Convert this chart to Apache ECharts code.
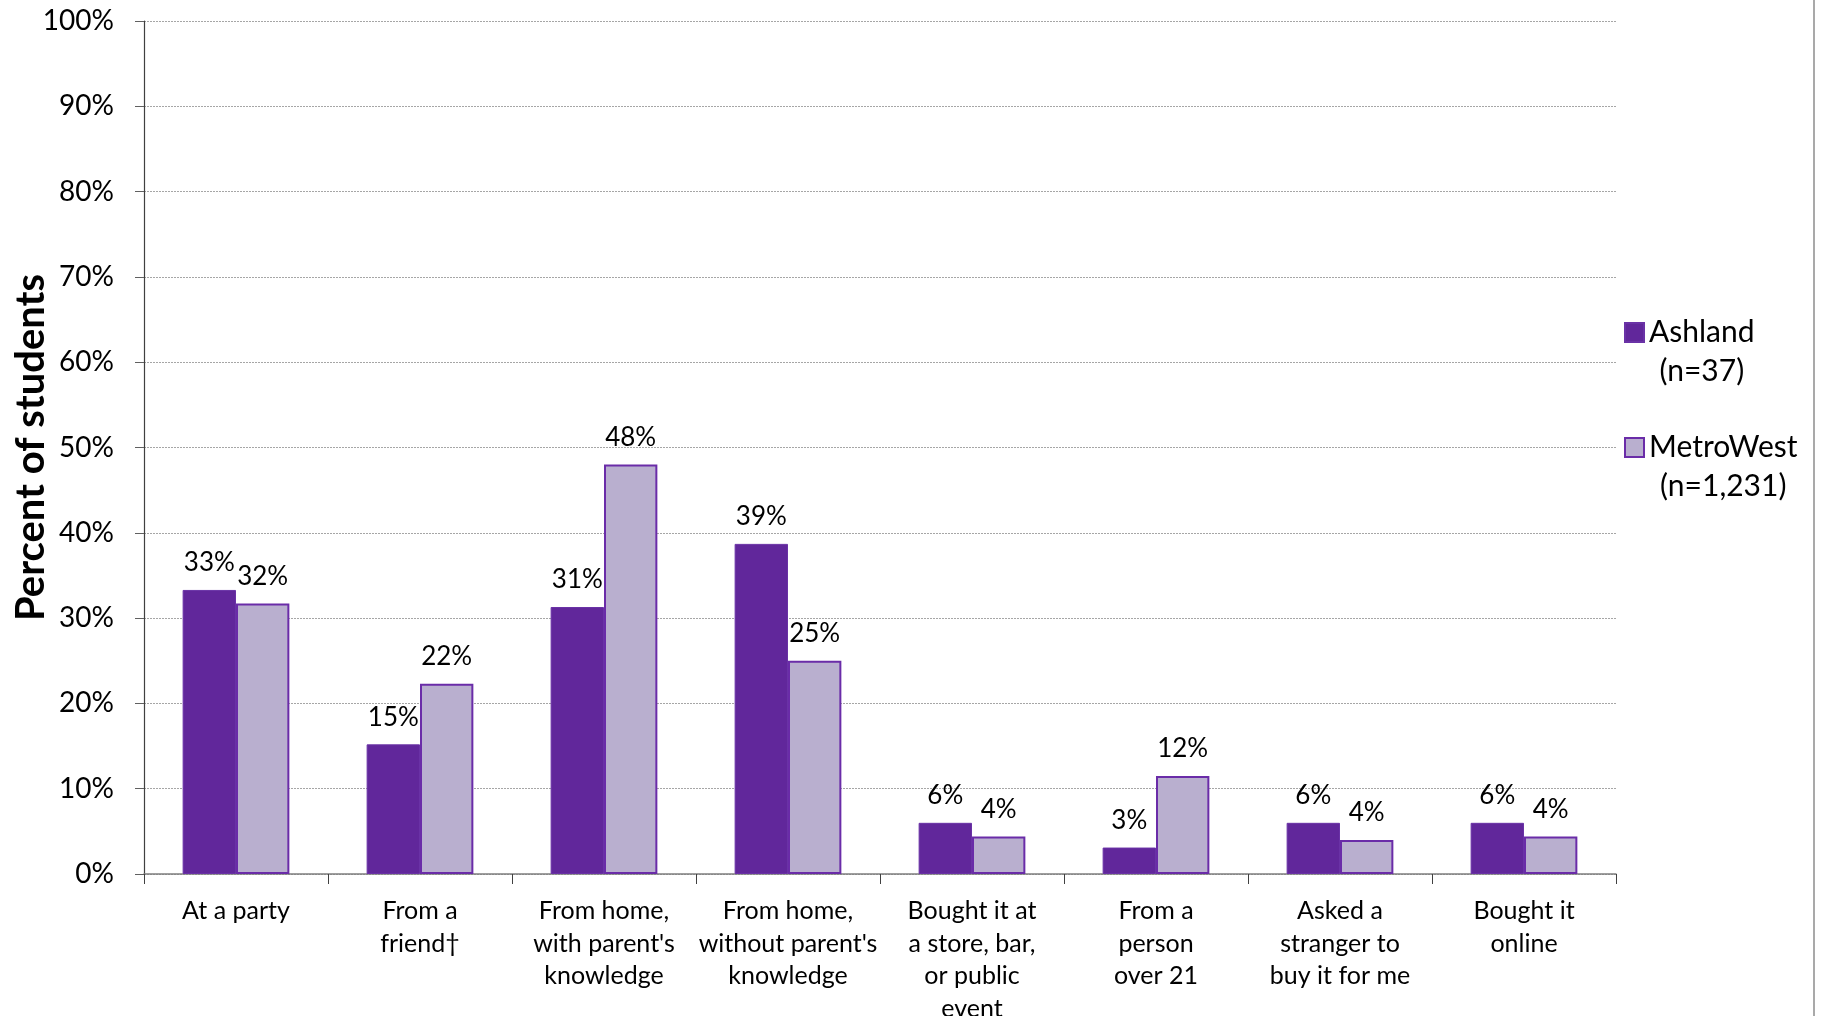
<!DOCTYPE html>
<html>
<head>
<meta charset="utf-8">
<script src="https://cdn.jsdelivr.net/npm/echarts@6/dist/echarts.min.js"></script>
<style>
html,body{margin:0;padding:0;background:#fff;}
#chart{width:1821px;height:1016px;}
</style>
</head>
<body>
<div id="chart"></div>
<script>
const categories = [
  "At a party",
  "From a\nfriend\u2020",
  "From home,\nwith parent's\nknowledge",
  "From home,\nwithout parent's\nknowledge",
  "Bought it at\na store, bar,\nor public\nevent",
  "From a\nperson\nover 21",
  "Asked a\nstranger to\nbuy it for me",
  "Bought it\nonline"
];
const ashland = [33.3, 15.2, 31.3, 38.7, 6.0, 3.1, 6.0, 6.0];
const metroWest = [31.7, 22.3, 48.0, 25.0, 4.4, 11.5, 4.0, 4.4];
const seriesNames = ["Ashland", "MetroWest"];
const seriesN = ["(n=37)", "(n=1,231)"];
const yTicks = [0, 10, 20, 30, 40, 50, 60, 70, 80, 90, 100];

const FONT = "Lato, 'Noto Sans', sans-serif";
const chart = echarts.init(document.getElementById('chart'), null, {renderer: 'canvas'});

const labelCfg = {
  show: true,
  position: 'top',
  distance: 14,
  formatter: p => Math.round(p.value) + '%',
  color: '#000',
  fontSize: 26,
  fontFamily: FONT
};

const legendTok = {fontSize: 30, fontFamily: FONT, color: '#000', lineHeight: 39, align: 'center'};

chart.setOption({
  animation: false,
  backgroundColor: '#fff',
  grid: {left: 144, right: 205, top: 21, bottom: 142, containLabel: false, outerBoundsMode: 'none'},
  legend: {
    orient: 'vertical',
    left: 1619,
    top: 269,
    itemWidth: 19,
    itemHeight: 19,
    itemGap: -2,
    icon: 'rect',
    formatter: name => '{c| }\n{c|' + name + '}\n{c|' + seriesN[seriesNames.indexOf(name)] + '}',
    textStyle: {
      fontSize: 30,
      fontFamily: FONT,
      color: '#000',
      lineHeight: 39,
      rich: {c: legendTok}
    },
    data: seriesNames
  },
  xAxis: {
    type: 'category',
    data: categories,
    axisLine: {lineStyle: {color: '#7f7f7f', width: 1.5}},
    axisTick: {show: true, length: 10, alignWithLabel: false, lineStyle: {color: '#404040'}},
    axisLabel: {
      interval: 0,
      margin: 21,
      fontSize: 25,
      lineHeight: 32.5,
      color: '#000',
      fontFamily: FONT
    }
  },
  yAxis: {
    type: 'value',
    min: 0,
    max: 100,
    interval: 10,
    name: 'Percent of students',
    nameLocation: 'middle',
    nameGap: 93,
    nameMoveOverlap: false,
    nameTextStyle: {fontSize: 40, fontWeight: 'bold', color: '#000', fontFamily: FONT},
    axisLine: {show: true, lineStyle: {color: '#404040', width: 1.2}},
    axisTick: {show: true, length: 9, lineStyle: {color: '#606060'}},
    axisLabel: {
      margin: 30,
      fontSize: 28,
      color: '#000',
      fontFamily: FONT,
      formatter: v => yTicks.includes(v) ? v + '%' : ''
    },
    splitLine: {show: true, lineStyle: {color: '#a6a6a6', type: [2, 1], width: 1}}
  },
  series: [
    {
      name: seriesNames[0],
      type: 'bar',
      data: ashland,
      barGap: '0%',
      barCategoryGap: '42%',
      itemStyle: {color: '#61279b', borderColor: '#6a32a6', borderWidth: 1},
      label: labelCfg
    },
    {
      name: seriesNames[1],
      type: 'bar',
      data: metroWest,
      barGap: '0%',
      barCategoryGap: '42%',
      itemStyle: {color: '#b9afcf', borderColor: '#6a2ca8', borderWidth: 2},
      label: labelCfg
    }
  ],
  graphic: [
    {type: 'line', shape: {x1: 1814, y1: 0, x2: 1814, y2: 1016}, style: {stroke: '#8c8c8c', lineWidth: 1.5}}
  ]
});
</script>
</body>
</html>
